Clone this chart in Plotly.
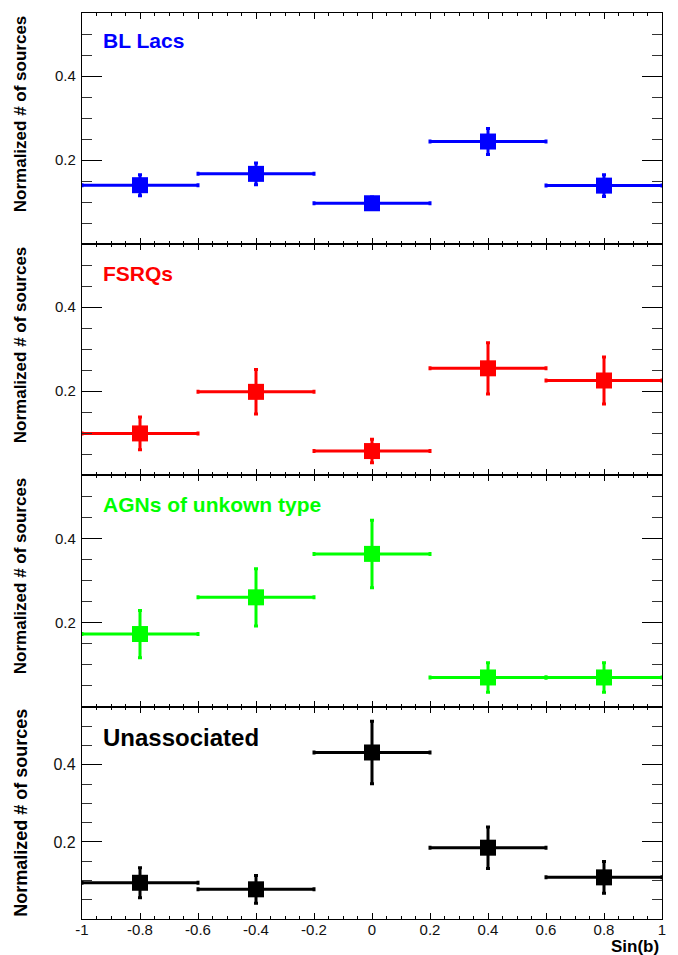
import plotly.graph_objects as go

# ---- data ----
sinb_centers = [-0.8, -0.4, 0.0, 0.4, 0.8]
bin_halfwidth = [0.2, 0.2, 0.2, 0.2, 0.2]

bl_lacs = [0.140, 0.167, 0.097, 0.244, 0.139]
bl_lacs_err = [0.025, 0.026, 0.015, 0.031, 0.026]

fsrqs = [0.099, 0.198, 0.057, 0.254, 0.225]
fsrqs_err = [0.039, 0.053, 0.028, 0.061, 0.056]

agn_unknown = [0.173, 0.260, 0.363, 0.070, 0.070]
agn_unknown_err = [0.056, 0.068, 0.080, 0.035, 0.035]

unassociated = [0.094, 0.077, 0.432, 0.185, 0.108]
unassociated_err = [0.039, 0.036, 0.081, 0.054, 0.041]

panel_labels = ["BL Lacs", "FSRQs", "AGNs of unkown type", "Unassociated"]
panel_colors = ["#0000ff", "#ff0000", "#00ff00", "#000000"]

x_tickvals = [-1, -0.8, -0.6, -0.4, -0.2, 0, 0.2, 0.4, 0.6, 0.8, 1]
x_ticktext = ["-1", "-0.8", "-0.6", "-0.4", "-0.2", "0", "0.2", "0.4", "0.6", "0.8", "1"]
y_tickvals = [0.2, 0.4]
y_ticktext = ["0.2", "0.4"]

y_title = "Normalized # of sources"
x_title = "Sin(b)"

series = [
    (bl_lacs, bl_lacs_err),
    (fsrqs, fsrqs_err),
    (agn_unknown, agn_unknown_err),
    (unassociated, unassociated_err),
]

# ---- layout geometry ----
W, H = 678, 955
ML, MR, MT, MB = 82, 14, 13, 36
plot_h = H - MT - MB
panel_px = [13, 244, 475, 707, 919]  # panel edges (px from top)


def py(px):
    return (H - MB - px) / plot_h


domains = [[py(panel_px[i + 1]), py(panel_px[i])] for i in range(4)]
domains[-1][0] = 0.0
domains[0][1] = 1.0

FONT = "Liberation Sans, Arial, Helvetica, sans-serif"

fig = go.Figure()

for i, ((vals, errs), col) in enumerate(zip(series, panel_colors)):
    sfx = "" if i == 0 else str(i + 1)
    fig.add_trace(go.Scatter(
        x=sinb_centers, y=vals,
        mode="markers",
        marker=dict(symbol="square", size=16, color=col, line=dict(width=0)),
        error_x=dict(type="data", array=bin_halfwidth, color=col, thickness=3, width=2),
        error_y=dict(type="data", array=errs, color=col, thickness=3, width=2),
        xaxis="x" + sfx, yaxis="y" + sfx,
        showlegend=False,
        cliponaxis=False,
        hoverinfo="skip",
    ))

layout = dict(
    width=W, height=H,
    margin=dict(l=ML, r=MR, t=MT, b=MB),
    paper_bgcolor="white", plot_bgcolor="white",
    showlegend=False,
    font=dict(family=FONT, color="black"),
)

for i in range(4):
    sfx = "" if i == 0 else str(i + 1)
    big = (i == 3)
    xa = dict(
        domain=[0, 1], anchor="y" + sfx, range=[-1, 1],
        showgrid=False, zeroline=False,
        showline=True, linecolor="black", linewidth=1.2, mirror="ticks",
        ticks="inside", ticklen=6, tickwidth=1, tickcolor="black",
        tickmode="array", tickvals=x_tickvals, ticktext=x_ticktext,
        showticklabels=big,
        tickfont=dict(family=FONT, size=15, color="#111111"),
        minor=dict(tickmode="linear", tick0=0, dtick=0.05, ticklen=3,
                   ticks="inside", tickcolor="black", tickwidth=1),
    )
    if big:
        xa["ticklabelstandoff"] = -3
    if i:
        xa["matches"] = "x"
    layout["xaxis" + sfx] = xa
    layout["yaxis" + sfx] = dict(
        domain=domains[i], anchor="x" + sfx, range=[0, 0.55],
        showgrid=False, zeroline=False,
        showline=True, linecolor="black", linewidth=1.2, mirror="ticks",
        ticks="inside", ticklen=20, tickwidth=1.2, tickcolor="black",
        tickmode="array", tickvals=y_tickvals, ticktext=y_ticktext,
        tickfont=dict(family=FONT, size=16 if big else 15, color="#111111"),
        ticklabelstandoff=2,
        minor=dict(tickmode="linear", tick0=0, dtick=0.05, ticklen=10,
                   ticks="inside", tickcolor="#333333", tickwidth=1),
    )

fig.update_layout(**layout)

ann = []
label_tops_px = [27, 260, 491, 722]
label_sizes = [21, 21, 21, 24]
for i in range(4):
    ann.append(dict(
        text=panel_labels[i], xref="paper", yref="paper",
        x=(103 - ML) / (W - ML - MR) - 0.003, y=py(label_tops_px[i]),
        xanchor="left", yanchor="top", showarrow=False,
        font=dict(family=FONT, size=label_sizes[i], color=panel_colors[i], weight=700),
    ))
    ann.append(dict(
        text=y_title, xref="paper", yref="paper",
        x=(20.5 - ML) / (W - ML - MR), y=py(panel_px[i]),
        xanchor="center", yanchor="top", textangle=-90, showarrow=False,
        font=dict(family=FONT, size=18 if i == 3 else 17, color="black", weight=700),
    ))
ann.append(dict(
    text=x_title, xref="paper", yref="paper",
    x=(663 - ML) / (W - ML - MR), y=py(946),
    xanchor="right", yanchor="middle", showarrow=False,
    font=dict(family=FONT, size=17, color="black", weight=700),
))
fig.update_layout(annotations=ann)

fig.write_html(
    "out.html",
    config={"displayModeBar": False},
    post_script="document.body.style.margin='0';document.body.style.padding='0';",
)
